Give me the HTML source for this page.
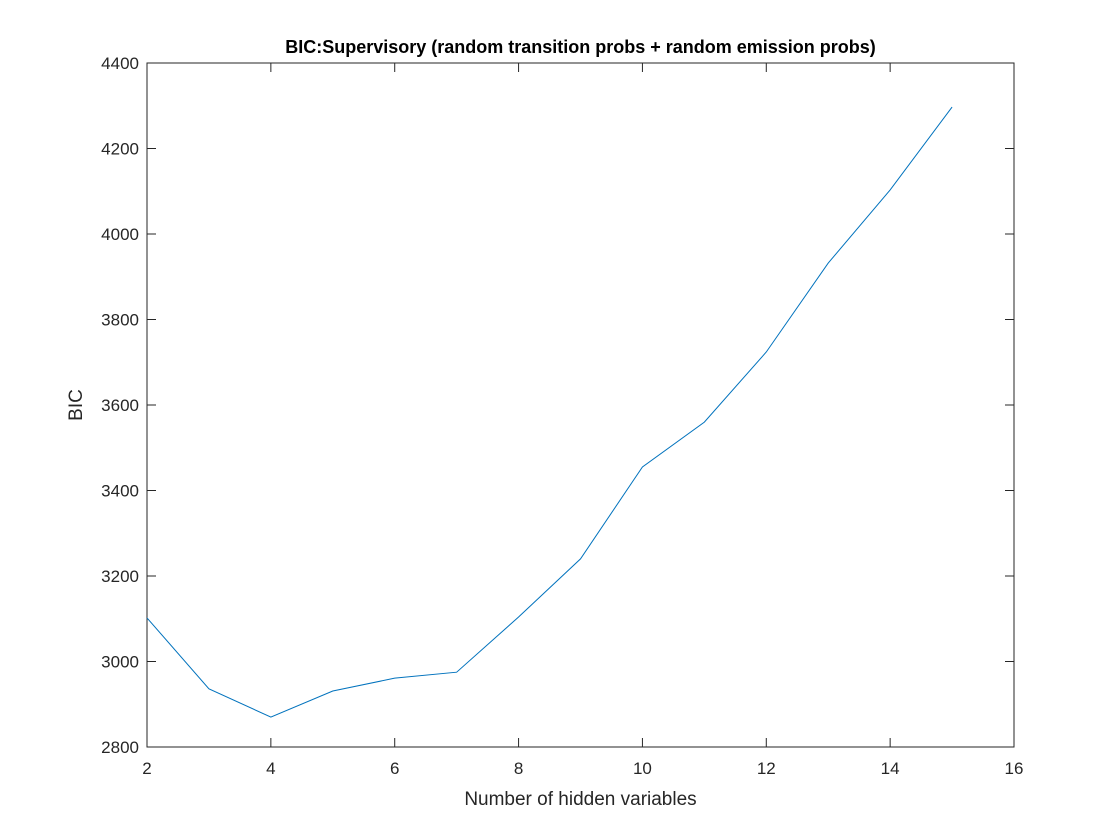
<!DOCTYPE html>
<html><head><meta charset="utf-8"><style>
html,body{margin:0;padding:0;background:#fff;}
svg{display:block;font-family:"Liberation Sans",Arial,sans-serif;}
</style></head><body>
<svg id="chart" width="1120" height="840" xmlns="http://www.w3.org/2000/svg">
<rect width="1120" height="840" fill="#fff"/>
<g id="g"></g>
</svg>
<script>
const xValues=[2,3,4,5,6,7,8,9,10,11,12,13,14,15];
const bicValues=[3102,2936,2870,2931,2961,2975,3104,3240,3455,3560,3724,3932,4103,4297];
const xTicks=[2,4,6,8,10,12,14,16];
const yTicks=[2800,3000,3200,3400,3600,3800,4000,4200,4400];
const L=147,R=1014,T=63,B=747;
const xMin=2,xMax=16,yMin=2800,yMax=4400;
const sx=v=>L+(v-xMin)/(xMax-xMin)*(R-L);
const sy=v=>B-(v-yMin)/(yMax-yMin)*(B-T);
const g=document.getElementById('g');
const NS='http://www.w3.org/2000/svg';
function mk(t,a,txt){const e=document.createElementNS(NS,t);for(const k in a)e.setAttribute(k,a[k]);if(txt!==undefined)e.textContent=txt;g.appendChild(e);return e;}
let e=mk('rect',{x:L,y:T,width:R-L,height:B-T,fill:'none',stroke:'#262626','stroke-width':1});


xTicks.forEach(v=>{const x=sx(v);
 mk('line',{x1:x,y1:B,x2:x,y2:B-9,stroke:'#262626'});
 mk('line',{x1:x,y1:T,x2:x,y2:T+9,stroke:'#262626'});
 const t=mk('text',{x:x,y:B+27,'text-anchor':'middle','font-size':17,fill:'#262626'},v);
 
 
});
yTicks.forEach(v=>{const y=sy(v);
 mk('line',{x1:L,y1:y,x2:L+9,y2:y,stroke:'#262626'});
 mk('line',{x1:R,y1:y,x2:R-9,y2:y,stroke:'#262626'});
 const t=mk('text',{x:L-8,y:y+6,'text-anchor':'end','font-size':17,fill:'#262626'},v);
 
 
});
const pts=xValues.map((v,i)=>sx(v)+','+sy(bicValues[i])).join(' ');
e=mk('polyline',{points:pts,fill:'none',stroke:'#0072bd','stroke-width':1});


e=mk('text',{x:(L+R)/2,y:53,'text-anchor':'middle','font-size':18,'font-weight':'bold',fill:'#000'},'BIC:Supervisory (random transition probs + random emission probs)');


e=mk('text',{x:(L+R)/2,y:805,'text-anchor':'middle','font-size':19,fill:'#262626'},'Number of hidden variables');


e=mk('text',{x:82,y:(T+B)/2,'text-anchor':'middle','font-size':19,fill:'#262626',transform:'rotate(-90 82 '+((T+B)/2)+')'},'BIC');


</script>
</body></html>
